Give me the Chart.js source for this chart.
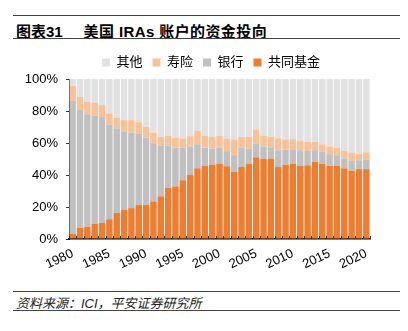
<!DOCTYPE html>
<html>
<head>
<meta charset="utf-8">
<script src="https://cdn.jsdelivr.net/npm/chart.js@4.4.0/dist/chart.umd.min.js"></script>
<style>
  body { margin: 0; width: 408px; height: 331px; background: #fff; position: relative; overflow: hidden;
         font-family: "Liberation Sans", "Noto Sans CJK SC", sans-serif; }
  .rule { position: absolute; left: 13px; width: 387px; height: 0; border-top: 1.5px solid #444; }
  #title { position: absolute; left: 16px; top: 20px; font-size: 15px; font-weight: bold; color: #000; white-space: pre; }
  #title span { letter-spacing: 0.4px; }
  #source { position: absolute; left: 16px; top: 293px; font-size: 13px; font-style: italic; color: #222; }
  #wrap { position: absolute; left: 0; top: 44px; width: 408px; height: 242px; }
</style>
</head>
<body>
<div class="rule" style="top:15px"></div>
<div id="title">图表31     <span>美国 IRAs 账户的资金投向</span></div>
<div class="rule" style="top:38px"></div>
<div id="wrap"><canvas id="myChart"></canvas></div>
<div class="rule" style="top:291px"></div>
<div id="source">资料来源：ICI，平安证券研究所</div>
<div class="rule" style="top:310px"></div>
<script>
// years 1980 - 2020
const years = [1980,1981,1982,1983,1984,1985,1986,1987,1988,1989,1990,1991,1992,1993,1994,1995,1996,1997,1998,1999,2000,
  2001,2002,2003,2004,2005,2006,2007,2008,2009,2010,2011,2012,2013,2014,2015,2016,2017,2018,2019,2020];

// share of IRA assets, percent
const mutualFunds = [3.1,6.9,7.7,9.4,10.1,12.4,16.3,18.4,19.3,21.4,21.4,23.5,26.7,32.0,32.9,36.7,40.2,44.2,45.6,46.5,47.1,
  45.5,41.9,45.0,47.0,51.1,50.0,50.3,45.0,46.4,47.1,45.7,46.1,48.2,47.1,45.7,45.7,44.2,42.7,43.7,43.7];
const banks = [83.2,73.8,70.3,67.6,66.1,59.2,52.9,48.5,47.2,44.6,41.9,36.4,31.5,26.2,24.2,20.4,17.6,15.0,11.5,10.0,10.1,
  9.4,10.5,12.0,9.5,8.3,7.8,7.0,10.5,9.4,9.0,9.8,8.9,7.3,7.3,7.3,6.7,6.1,6.1,5.5,5.7];
const lifeIns = [9.5,8.1,7.8,8.2,7.5,6.9,6.7,7.4,7.8,7.0,6.8,6.6,5.6,6.2,6.2,5.7,6.4,8.3,7.4,7.3,7.3,
  7.9,9.9,6.8,7.5,9.1,6.9,6.7,7.5,6.5,6.3,6.0,5.9,5.4,4.8,4.8,4.7,4.7,5.2,4.1,4.8];
const others = [4.2,11.2,14.2,14.8,16.3,21.5,24.1,25.7,25.7,27.0,29.9,33.5,36.2,35.6,36.7,37.2,35.8,32.5,35.5,36.2,35.5,
  37.2,37.7,36.2,36.0,31.5,35.3,36.0,37.0,37.7,37.6,38.5,39.1,39.1,40.8,42.2,42.9,45.0,46.0,46.7,45.8];

const yTicks = [0,10,20,30,40,50,60,70,80,90,100];

const font = "'Liberation Sans', 'Noto Sans CJK SC', sans-serif";

function series(label, data, color) {
  return { label: label, data: data, backgroundColor: color, borderWidth: 0,
           barPercentage: 1, categoryPercentage: 0.88 };
}

// small tick marks pointing up into the plot, at the category boundaries
const innerTicks = {
  id: "innerTicks",
  afterLayout(chart) {
    // center the legend over the plot area rather than the whole canvas
    chart.legend.left = chart.chartArea.left - 17;
  },
  afterDatasetsDraw(chart) {
    const x = chart.scales.x;
    const c = chart.ctx;
    c.save();
    c.strokeStyle = "#333";
    c.lineWidth = 1;
    c.beginPath();
    for (let i = 0; i <= years.length; i++) {
      const px = Math.round(x.getPixelForValue(i - 0.5)) + 0.5;
      c.moveTo(px, x.top);
      c.lineTo(px, x.top - 3);
    }
    c.stroke();
    c.restore();
  },
};

const ctx = document.getElementById("myChart").getContext("2d");
const chart = new Chart(ctx, {
  type: "bar",
  data: {
    labels: years,
    datasets: [
      series("共同基金", mutualFunds, "#ED7D31"),
      series("银行", banks, "#C0C0C0"),
      series("寿险", lifeIns, "#F8C198"),
      series("其他", others, "#E1E1E1"),
    ],
  },
  plugins: [innerTicks],
  options: {
    responsive: true,
    maintainAspectRatio: false,
    animation: false,
    layout: { padding: { left: 0, right: 38, top: 2, bottom: 0 } },
    plugins: {
      legend: {
        reverse: true,
        labels: { font: { family: font, size: 13 }, color: "#000", boxWidth: 8, boxHeight: 8, padding: 10 },
      },
      tooltip: { enabled: false },
    },
    scales: {
      x: {
        stacked: true,
        grid: { display: true, drawOnChartArea: false, drawTicks: false },
        border: { color: "#000", width: 1.5 },
        ticks: {
          autoSkip: false, maxRotation: 25, minRotation: 25, color: "#000", padding: 7,
          font: { family: font, size: 13 },
          callback: (v, i) => (years[i] % 5 === 0 ? years[i] : ""),
        },
        afterFit: (s) => { s.height = 47; },
      },
      y: {
        stacked: true, min: 0, max: 100,
        grid: { display: true, drawOnChartArea: false, tickLength: 3, color: "#333" },
        border: { color: "#000", width: 1 },
        afterBuildTicks: (s) => { s.ticks = yTicks.map((v) => ({ value: v })); },
        ticks: { color: "#000", font: { family: font, size: 13 }, padding: 8, callback: (v) => v + "%" },
        afterFit: (s) => { s.width = 69; },
      },
    },
  },
});
</script>
</body>
</html>
